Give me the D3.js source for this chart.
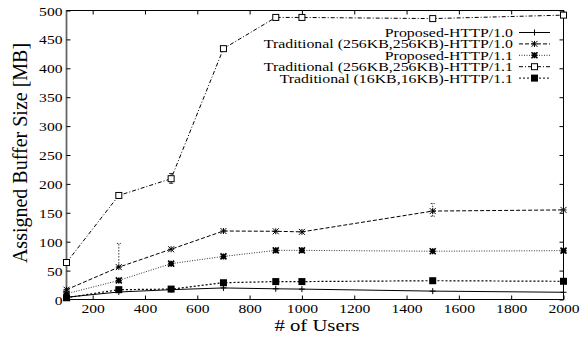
<!DOCTYPE html>
<html><head><meta charset="utf-8">
<script src="https://cdn.jsdelivr.net/npm/d3@7"></script>
<style>body{margin:0;background:#fff}svg{display:block}text{font-family:"Liberation Serif","Tinos","Times New Roman","DejaVu Serif",serif;fill:#000}</style>
</head><body><svg id="c" width="582" height="340"></svg>
<script>
const users = [100, 300, 500, 700, 900, 1000, 1500, 2000];
const seriesNames = [
  "Proposed-HTTP/1.0",
  "Traditional (256KB,256KB)-HTTP/1.0",
  "Proposed-HTTP/1.1",
  "Traditional (256KB,256KB)-HTTP/1.1",
  "Traditional (16KB,16KB)-HTTP/1.1"
];
const proposed10 = [4, 13, 17, 20, 18.5, 18, 14.5, 12.5];
const trad256_10 = [17, 56, 87, 118.5, 118, 117, 153, 155];
const proposed11 = [10, 33, 62, 74.5, 85, 85, 83.5, 84.5];
const trad256_11 = [64, 180, 209, 434, 488, 488, 486, 492];
const trad16_11 = [3, 17, 18, 29, 31, 31, 32.5, 31.5];
const seriesValues = [proposed10, trad256_10, proposed11, trad256_11, trad16_11];
// error bars: [series index, users, low, high]
const errorBars = [[1, 300, 57, 97], [3, 500, 201, 218], [1, 1500, 144, 166]];
const xTicks = [200, 400, 600, 800, 1000, 1200, 1400, 1600, 1800, 2000];
const yTicks = [0, 50, 100, 150, 200, 250, 300, 350, 400, 450, 500];

const dashes = [null, "4,2", "1,1.5", "4,2,1,2", "2,2"];
const markers = ["plus", "star", "starfill", "square", "fsquare"];
const FONT = '"Liberation Serif","Tinos","Times New Roman","DejaVu Serif",serif';
const SX = 1.2;

const svg = d3.select("#c");
const L = 66.5, R = 563.5, T = 10.5, B = 299.5;
const x = d3.scaleLinear().domain([100, 2000]).range([L, R]);
const y = d3.scaleLinear().domain([0, 500]).range([B, T]);

svg.append("rect").attr("x", L).attr("y", T).attr("width", R - L).attr("height", B - T)
  .attr("fill", "none").attr("stroke", "#000").attr("stroke-width", 1);
svg.append("path").attr("d", `M${L},${T}V${B}`).attr("stroke", "#666").attr("stroke-width", 1.8);

function stretch(sel, sx) {
  sel.each(function () {
    const t = d3.select(this);
    const tx = +t.attr("x") || 0, ty = +t.attr("y") || 0;
    t.attr("x", 0).attr("y", 0).attr("transform", `translate(${tx},${ty}) scale(${sx},1)`);
  });
}

const ax = svg.append("g");
const xb = ax.append("g").attr("transform", `translate(0,${B})`)
  .call(d3.axisBottom(x).tickValues(xTicks).tickSize(-4).tickPadding(5).tickFormat(d3.format("d")));
ax.append("g").attr("transform", `translate(0,${T})`)
  .call(d3.axisTop(x).tickValues(xTicks).tickSize(-4).tickFormat(""));
const yl = ax.append("g").attr("transform", `translate(${L},0)`)
  .call(d3.axisLeft(y).tickValues(yTicks).tickSize(-4).tickPadding(4));
ax.append("g").attr("transform", `translate(${R},0)`)
  .call(d3.axisRight(y).tickValues(yTicks).tickSize(-4).tickFormat(""));
ax.selectAll(".domain").remove();
ax.selectAll("g").attr("font-family", FONT);
ax.selectAll(".tick line").attr("stroke", "#000");
ax.selectAll(".tick text").attr("font-family", FONT).style("font-size", "13px").attr("fill", "#000");
xb.selectAll(".tick text").attr("y", 13).attr("dy", null);
yl.selectAll(".tick text").attr("dy", null).attr("y", 4.5);
stretch(ax.selectAll(".tick text"), SX);

svg.append("text").attr("transform", `translate(${(L + R) / 2 + 2},331) scale(1.22,1)`).attr("text-anchor", "middle")
  .attr("font-family", FONT).style("font-size", "17px").text("# of Users");
svg.append("text").attr("transform", `translate(27,${(T + B) / 2 - 2}) rotate(-90)`).attr("text-anchor", "middle")
  .attr("font-family", FONT).style("font-size", "20px").text("Assigned Buffer Size [MB]");

function marker(g, type, cx, cy) {
  const s = 3;
  if (type === "plus") {
    g.append("path").attr("d", `M${cx - s},${cy}H${cx + s}M${cx},${cy - s}V${cy + s}`).attr("stroke", "#000").attr("stroke-width", 1);
  } else if (type === "star") {
    g.append("path").attr("d", `M${cx - s},${cy - s}L${cx + s},${cy + s}M${cx - s},${cy + s}L${cx + s},${cy - s}M${cx - s},${cy}H${cx + s}M${cx},${cy - s}V${cy + s}`).attr("stroke", "#000").attr("stroke-width", 1);
  } else if (type === "starfill") {
    g.append("path").attr("d", `M${cx - s},${cy - s}L${cx + s},${cy + s}M${cx - s},${cy + s}L${cx + s},${cy - s}M${cx - s},${cy}H${cx + s}M${cx},${cy - s}V${cy + s}`).attr("stroke", "#000").attr("stroke-width", 1.6);
  } else if (type === "square") {
    g.append("rect").attr("x", cx - 3).attr("y", cy - 3).attr("width", 6).attr("height", 6).attr("fill", "#fff").attr("stroke", "#000").attr("stroke-width", 1);
  } else if (type === "fsquare") {
    g.append("rect").attr("x", cx - 3.5).attr("y", cy - 3.5).attr("width", 7).attr("height", 7).attr("fill", "#000");
  }
}

const line = d3.line().x(d => x(d[0])).y(d => y(d[1]));
const plot = svg.append("g");
seriesValues.forEach((vals, i) => {
  const pts = users.map((u, j) => [u, vals[j]]);
  plot.append("path").attr("d", line(pts)).attr("fill", "none").attr("stroke", i === 2 ? "#333" : "#000")
    .attr("stroke-width", i === 4 ? 1.2 : 1).attr("stroke-dasharray", dashes[i]);
});
errorBars.forEach(([si, u, lo, hi]) => {
  const cx = x(u);
  plot.append("path").attr("d", `M${cx},${y(lo)}V${y(hi)}M${cx - 2},${y(lo)}H${cx + 2}M${cx - 2},${y(hi)}H${cx + 2}`)
    .attr("stroke", "#000").attr("stroke-width", 0.8).attr("stroke-dasharray", si === 1 ? "1.5,1.5" : null).attr("fill", "none");
});
seriesValues.forEach((vals, i) => {
  users.forEach((u, j) => marker(plot, markers[i], x(u), y(vals[j])));
});

const lg = svg.append("g");
seriesNames.forEach((n, i) => {
  const ly = 32.5 + i * 11.4;
  lg.append("text").attr("transform", `translate(513,${ly + 4.5}) scale(${SX + 0.02},1)`).attr("text-anchor", "end")
    .attr("font-family", FONT).style("font-size", "13px").text(n);
  lg.append("path").attr("d", `M519,${ly}H550`).attr("stroke", i === 2 ? "#333" : "#000").attr("stroke-width", 1)
    .attr("stroke-dasharray", dashes[i]);
  marker(lg, markers[i], 534.5, ly);
});
</script></body></html>
